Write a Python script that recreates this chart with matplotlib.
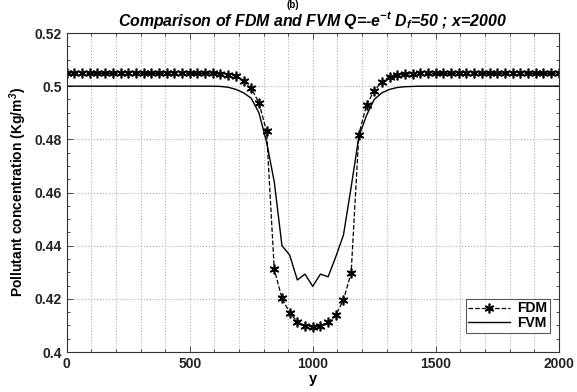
import numpy as np
import matplotlib
matplotlib.use("Agg")
import matplotlib.pyplot as plt
from matplotlib.ticker import MultipleLocator

plt.rcParams['font.family'] = ['Liberation Sans', 'DejaVu Sans']
plt.rcParams['mathtext.fontset'] = 'custom'
plt.rcParams['mathtext.rm'] = 'Liberation Sans:bold:italic'
plt.rcParams['mathtext.it'] = 'Liberation Sans:bold:italic'
plt.rcParams['mathtext.bf'] = 'Liberation Sans:bold:italic'

# grid points along y (65 nodes, 0..2000)
y_nodes = np.linspace(0, 2000, 65)

# FDM values
fdm = [0.5048] * 20 + [
    0.5047, 0.5043, 0.5038, 0.5021, 0.4992, 0.4938, 0.4830, 0.4311,
    0.4202, 0.4148, 0.4114, 0.4099, 0.4094, 0.4098, 0.4112, 0.4139,
    0.4196, 0.4298, 0.4818, 0.4929, 0.4983, 0.5017, 0.5035, 0.5042,
    0.5045, 0.5047,
] + [0.5048] * 19

# FVM values
fvm = [0.5] * 20 + [
    0.4999, 0.4996, 0.4988, 0.4975, 0.4955, 0.4900, 0.4790, 0.4640,
    0.4400, 0.4365, 0.4271, 0.4293, 0.4247, 0.4293, 0.4283, 0.4358,
    0.4440, 0.4620, 0.4810, 0.4890, 0.4950, 0.4975, 0.4988, 0.4995,
    0.4998, 0.4999,
] + [0.5] * 19

fig = plt.figure(figsize=(5.77, 3.92), dpi=100)
ax = fig.add_axes([0.1156, 0.102, 0.8527, 0.8138])

ax.plot(y_nodes, fdm, color='black', linestyle='--', linewidth=0.9,
        marker=(6, 2, 0), markersize=7, markeredgewidth=1.2, label='FDM')
ax.plot(y_nodes, fvm, color='black', linestyle='-', linewidth=1.0, label='FVM')

ax.set_xlim(0, 2000)
ax.set_ylim(0.4, 0.52)
ax.xaxis.set_major_locator(MultipleLocator(500))
ax.xaxis.set_minor_locator(MultipleLocator(100))
ax.yaxis.set_major_locator(MultipleLocator(0.02))
ax.yaxis.set_minor_locator(MultipleLocator(0.005))
ax.set_yticks(np.arange(0.4, 0.521, 0.02))
ax.set_yticklabels(['0.4', '0.42', '0.44', '0.46', '0.48', '0.5', '0.52'])

ax.tick_params(which='both', direction='in', top=True, right=True,
               labelsize=10, width=0.6, color='#333333')
ax.tick_params(which='major', length=4)
ax.tick_params(which='minor', length=2.5)
for lab in ax.get_xticklabels() + ax.get_yticklabels():
    lab.set_fontweight('bold')
    lab.set_color('#222222')

ax.grid(True, which='major', axis='both', linestyle=':', color='#b0b0b0', linewidth=0.8)
ax.grid(True, which='minor', axis='x', linestyle=':', color='#b0b0b0', linewidth=0.8)
for s in ax.spines.values():
    s.set_linewidth(0.8)
    s.set_color('#333333')

ax.set_xlabel('y', fontsize=10.5, fontweight='bold', labelpad=1)
ax.set_ylabel('Pollutant concentration (Kg/m$^{3}$)', fontsize=10, fontweight='bold', labelpad=4)
ax.set_title(r'Comparison of FDM and FVM Q=-e$^{-t}$ D$_{f}$=50 ; x=2000',
             fontsize=11.4, fontweight='bold', style='italic', pad=5)
fig.text(0.507, 0.999, '(b)', ha='center', va='top', fontsize=7, fontweight='bold')

leg = ax.legend(loc='lower right', bbox_to_anchor=(0.982, 0.06),
                prop={'weight': 'bold', 'size': 10},
                frameon=True, fancybox=False, edgecolor='#333333',
                borderaxespad=0, handlelength=3.0, handletextpad=0.5,
                borderpad=0.2, labelspacing=0.05)
leg.get_frame().set_linewidth(0.8)

fig.savefig('out.png', dpi=100)
